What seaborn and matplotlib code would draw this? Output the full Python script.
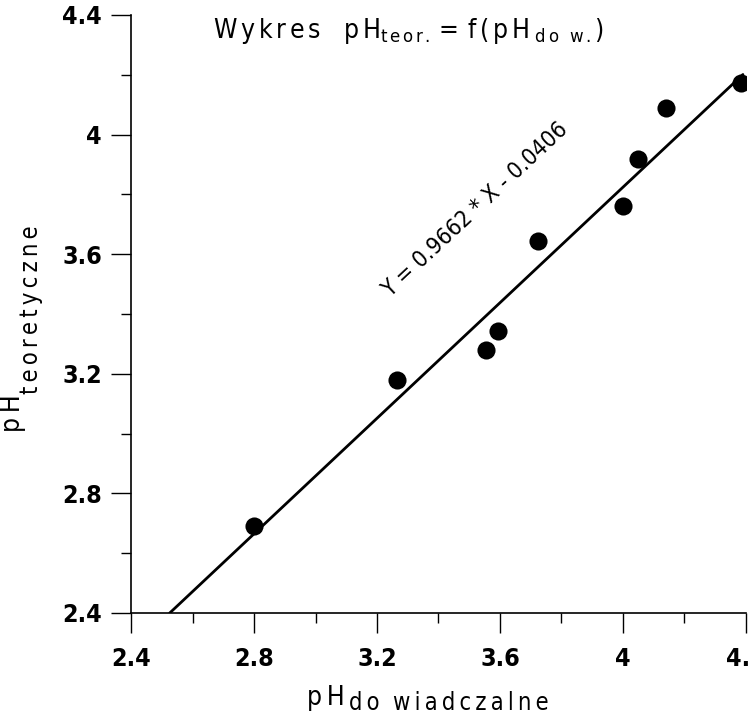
import matplotlib
matplotlib.use("Agg")
import matplotlib.pyplot as plt
import seaborn as sns
import pandas as pd
import numpy as np

# data
ph_dosw = [2.80, 3.265, 3.555, 3.593, 3.724, 4.00, 4.05, 4.14, 4.385]
ph_teor = [2.69, 3.18, 3.28, 3.343, 3.645, 3.76, 3.92, 4.09, 4.173]
slope = 0.9662
intercept = -0.0406
line_x = [2.526, 4.39]
xticks = [2.4, 2.8, 3.2, 3.6, 4.0, 4.4]
xtick_labels = ["2.4", "2.8", "3.2", "3.6", "4", "4.4"]
yticks = [2.4, 2.8, 3.2, 3.6, 4.0, 4.4]
ytick_labels = ["2.4", "2.8", "3.2", "3.6", "4", "4.4"]

sns.set_theme(style="white")
plt.rcParams["font.family"] = ["DejaVu Sans"]
plt.rcParams["font.stretch"] = "condensed"
plt.rcParams["mathtext.fontset"] = "custom"
plt.rcParams["mathtext.rm"] = "DejaVu Sans:stretch=condensed"
plt.rcParams["mathtext.it"] = "DejaVu Sans:stretch=condensed"

df = pd.DataFrame({"x": ph_dosw, "y": ph_teor})
ldf = pd.DataFrame({"x": line_x, "y": [slope * v + intercept for v in line_x]})

W, H = 750, 723
fig = plt.figure(figsize=(7.5, 7.23), dpi=100)
ax = fig.add_axes([131 / W, 110 / H, 615 / W, 598 / H])

sns.lineplot(data=ldf, x="x", y="y", ax=ax, color="black", linewidth=2)
sns.scatterplot(data=df, x="x", y="y", ax=ax, color="black", s=170,
                edgecolor="black", linewidth=0, zorder=5)

thin = "\u2009"
def spaced(s):
    return thin.join(s)

ax.set_xlim(2.4, 4.4)
ax.set_ylim(2.4, 4.4)
ax.set_xticks(xticks)
ax.set_xticklabels(xtick_labels, fontsize=18,
                   fontweight="bold", fontstretch="condensed")
ax.set_yticks(yticks)
ax.set_yticklabels(ytick_labels, fontsize=18,
                   fontweight="bold", fontstretch="condensed")
ax.set_xticks(np.arange(2.6, 4.4, 0.4), minor=True)
ax.set_yticks(np.arange(2.6, 4.4, 0.4), minor=True)
ax.tick_params(axis="both", which="major", direction="out", length=14.4, width=1,
               color="black", labelcolor="black", left=True, bottom=True)
ax.tick_params(axis="y", which="major", pad=6.5)
ax.tick_params(axis="x", which="major", pad=10)
ax.tick_params(axis="both", which="minor", direction="out", length=7.2, width=1,
               color="black", left=True, bottom=True)
for s in ["top", "right"]:
    ax.spines[s].set_visible(False)
for s in ["left", "bottom"]:
    ax.spines[s].set_color("black")
    ax.spines[s].set_linewidth(1.2)
ax.set_xlabel("")
ax.set_ylabel("")

# title
fig.text(408 / W, 1 - 38 / H,
         r"$\mathrm{W\,y\,k\,r\,e\,s\ \ \ p\,H}_{\mathrm{t\,e\,o\,r\,.}}"
         r"\mathrm{=\,f\,(\,p\,H}_{\mathrm{\ d\,o\ \ w\,.}}\mathrm{)}$",
         ha="center", va="baseline", fontsize=19, color="black")

# x label: main part and lowered subscript part
fig.text(307 / W, 1 - 705 / H, "p" + thin + "H", ha="left", va="baseline",
         fontsize=19, color="black", fontstretch="condensed")
fig.text(349 / W, 1 - 710 / H, spaced("do") + "  " + spaced("wiadczalne"),
         ha="left", va="baseline", fontsize=17, color="black",
         fontstretch="condensed")

# y label: main part and lowered subscript part (rotated)
fig.text(26 / W, 1 - 432 / H, "p" + thin + "H", ha="right", va="bottom",
         rotation=90, fontsize=19, color="black", fontstretch="condensed")
fig.text(43 / W, 1 - 394 / H, spaced("teoretyczne"), ha="right", va="bottom",
         rotation=90, fontsize=17, color="black", fontstretch="condensed")

ax.text(3.52, 3.75, "Y = 0.9662 * X - 0.0406",
        rotation=43, ha="center", va="center", fontsize=16.5, color="black",
        rotation_mode="anchor", fontstretch="condensed")

fig.savefig("out.png", dpi=100)
